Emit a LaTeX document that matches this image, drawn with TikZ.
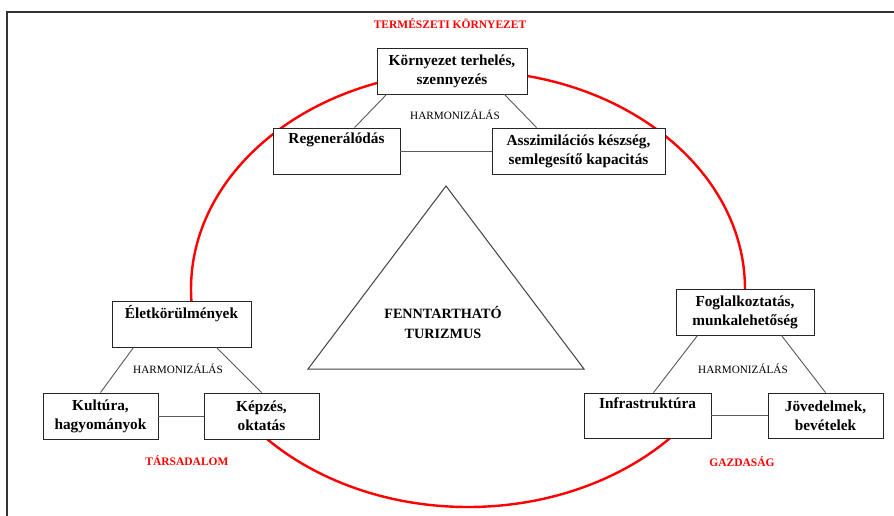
\documentclass[tikz,border=0pt]{standalone}
\usepackage{fontspec}
\setmainfont{Liberation Serif}
\pgfdeclarelayer{bg}
\pgfsetlayers{bg,main}
\begin{document}
\begin{tikzpicture}[x=1pt,y=-1pt,
  box/.style={draw=black!85, line width=0.9pt, fill=white, align=center, inner sep=0pt,
    font=\fontsize{15.3}{19}\selectfont\bfseries},
  conn/.style={draw=black!65, line width=0.9pt},
  harm/.style={font=\fontsize{11.2}{13}\selectfont, inner sep=0pt},
  redlbl/.style={text=red, font=\fontsize{11.5}{13}\selectfont\bfseries, inner sep=0pt},
  ring/.style={draw=red, line width=2.4pt},
  frameline/.style={draw=black!80, line width=1.2pt},
  tri/.style={draw=black!75, line width=1pt},
  hide/.style={fill=white, draw=none},
  centre/.style={align=center, inner sep=0pt, font=\fontsize{14.2}{20}\selectfont\bfseries}]
\useasboundingbox (0,0) rectangle (894,516);
% frame
\coordinate (fa) at (7,516);
\coordinate (fb) at (7,12);
\coordinate (fc) at (894,12);
\draw[frameline] (fa) -- (fb) -- (fc);
% boxes
\node[box, minimum width=150pt, minimum height=46pt] (kt) at (452,71) {Környezet terhelés,\\szennyezés};
\node[box, minimum width=127pt, minimum height=46pt] (reg) at (336.5,151) {Regenerálódás\\\strut};
\node[box, minimum width=173pt, minimum height=46pt] (asz) at (578.5,151) {Asszimilációs készség,\\semlegesítő kapacitás};
\node[box, minimum width=139pt, minimum height=46pt] (elet) at (181.5,324) {Életkörülmények\\\strut};
\node[box, minimum width=115pt, minimum height=46pt] (kult) at (100.5,416) {Kultúra,\\hagyományok};
\node[box, minimum width=115pt, minimum height=46pt] (kepz) at (261.5,416) {Képzés,\\oktatás};
\node[box, minimum width=138pt, minimum height=46pt] (fogl) at (745,312) {Foglalkoztatás,\\munkalehetőség};
\node[box, minimum width=127pt, minimum height=45pt] (infra) at (647.5,415.5) {Infrastruktúra\\\strut};
\node[box, minimum width=115pt, minimum height=45pt] (jov) at (825.5,415.5) {Jövedelmek,\\bevételek};
% ellipse and masks
\begin{pgfonlayer}{bg}
  \draw[ring] (468,289) ellipse [x radius=277pt, y radius=218pt];
  \fill[hide] ([yshift=1pt]elet.south west) -- ([yshift=1pt]elet.south east)
     -- ([yshift=-4pt]kepz.north east) -- ([yshift=-4pt]kult.north west) -- cycle;
  \fill[hide] ([yshift=1pt]fogl.south west) -- ([yshift=1pt]fogl.south east)
     -- ([yshift=-4pt]jov.north east) -- ([yshift=-4pt]infra.north west) -- cycle;
\end{pgfonlayer}
% connectors
\draw[conn] ([xshift=10pt]kt.south west) -- ([xshift=82pt]reg.north west);
\draw[conn] ([xshift=-23pt]kt.south east) -- ([xshift=45pt]asz.north west);
\draw[conn] (reg.east) -- (asz.west);
\draw[conn] ([xshift=22pt]elet.south west) -- (kult.north);
\draw[conn] ([xshift=-35pt]elet.south east) -- (kepz.north);
\draw[conn] (kult.east) -- (kepz.west);
\draw[conn] ([xshift=22pt]fogl.south west) -- ([xshift=70pt]infra.north west);
\draw[conn] ([xshift=-33pt]fogl.south east) -- (jov.north);
\draw[conn] (infra.east) -- (jov.west);
% central triangle
\coordinate (ta) at (446,186);
\coordinate (tl) at (308,369);
\coordinate (tr) at (584,369);
\draw[tri] (ta) -- (tl) -- (tr) -- cycle;
\node[centre] (ft) at (443,322) {FENNTARTHATÓ\\TURIZMUS};
% labels
\node[harm] (h1) at (455,115) {HARMONIZÁLÁS};
\node[harm] (h2) at (178,369) {HARMONIZÁLÁS};
\node[harm] (h3) at (743,369) {HARMONIZÁLÁS};
\node[redlbl] (l1) at (450,24) {TERMÉSZETI KÖRNYEZET};
\node[redlbl] (l2) at (187,461) {TÁRSADALOM};
\node[redlbl] (l3) at (742,462) {GAZDASÁG};
\end{tikzpicture}
\end{document}
